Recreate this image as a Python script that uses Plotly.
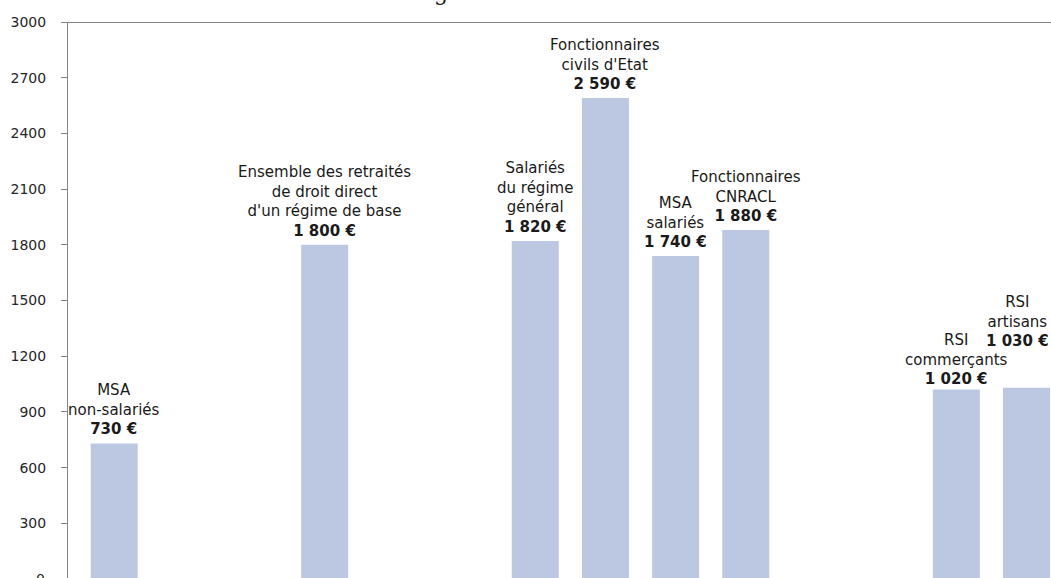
import plotly.graph_objects as go

# Data (blank columns are gaps in the original chart)
names = ["MSA<br>non-salariés", None, None,
         "Ensemble des retraités<br>de droit direct<br>d'un régime de base", None, None,
         "Salariés<br>du régime<br>général",
         "Fonctionnaires<br>civils d'Etat",
         "MSA<br>salariés",
         "Fonctionnaires<br>CNRACL", None, None,
         "RSI<br>commerçants",
         "RSI<br>artisans"]
values = [730, None, None, 1800, None, None, 1820, 2590, 1740, 1880, None, None, 1020, 1030]
ytick_vals = list(range(0, 3001, 300))

# label nudges (style)
label_yshift = {12: 0, 13: 36}
label_xshift = {13: -9}

BAR = "#BCC8E1"
FONT = "DejaVu Sans"

x = list(range(len(values)))
fig = go.Figure()
fig.add_trace(go.Bar(x=x, y=values, width=0.67, marker=dict(color=BAR, line=dict(width=0)),
                     hoverinfo="skip"))

for i, (n, v) in enumerate(zip(names, values)):
    if v is None:
        continue
    vt = f"{v:,}".replace(",", " ") + " €"
    fig.add_annotation(x=i, y=v, xref="x", yref="y", text=f"{n}<br><b>{vt}</b>",
                       showarrow=False, yanchor="bottom", xanchor="center",
                       yshift=label_yshift.get(i, 3), xshift=label_xshift.get(i, 0),
                       font=dict(family=FONT, size=15, color="#1a1a1a"))

# top border line at 3000
fig.add_shape(type="line", xref="paper", yref="y", x0=0, x1=1, y0=3000, y1=3000,
              line=dict(color="#5a5a5a", width=1.5), layer="above")

# partially visible "0" tick label (cropped at bottom edge of the picture)
fig.add_annotation(x=0, y=-0.0018, xref="paper", yref="paper", text="0", showarrow=False,
                   xanchor="right", yanchor="middle", xshift=-21,
                   font=dict(family=FONT, size=14, color="#262626"))
# cropped title fragment (only the descender shows in the reference)
fig.add_annotation(x=0.3795, y=1.0216, xref="paper", yref="paper", text="g", showarrow=False,
                   xanchor="center", yanchor="bottom", yshift=3,
                   font=dict(family="DejaVu Serif", size=22, color="#1a1a1a"))

fig.update_layout(
    width=1051, height=578,
    margin=dict(l=68, r=0, t=22, b=0),
    plot_bgcolor="white", paper_bgcolor="white",
    showlegend=False,
    xaxis=dict(range=[-0.658, 13.349], visible=False),
    yaxis=dict(range=[5.4, 3000], tickvals=ytick_vals, showgrid=False, zeroline=False,
               showline=True, linecolor="#868686", linewidth=1,
               ticks="outside", ticklen=6, tickcolor="#868686",
               ticklabelstandoff=12,
               tickfont=dict(family=FONT, size=14, color="#262626")),
)

fig.write_html("out.html")
